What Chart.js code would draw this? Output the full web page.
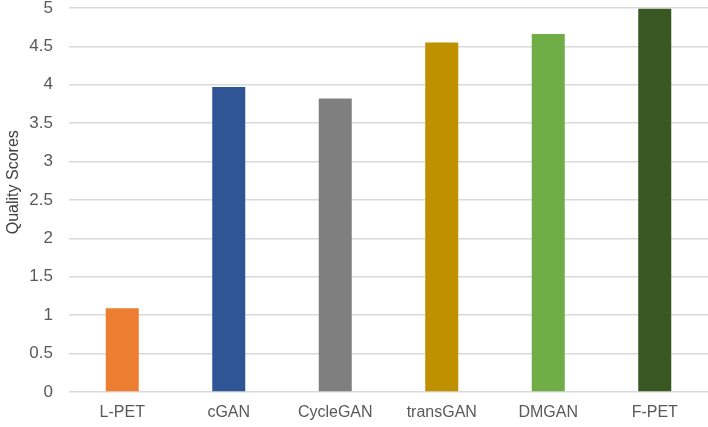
<!DOCTYPE html>
<html>
<head>
<meta charset="utf-8">
<script src="https://cdn.jsdelivr.net/npm/chart.js@4"></script>
<style>
  html, body { margin: 0; padding: 0; background: #fff; }
  #wrap { width: 708px; height: 427px; }
</style>
</head>
<body>
<div id="wrap"><canvas id="scoreChart"></canvas></div>
<script>
// quality scores per method
const methods = ['L-PET', 'cGAN', 'CycleGAN', 'transGAN', 'DMGAN', 'F-PET'];
const scores = [1.09, 3.97, 3.82, 4.55, 4.66, 4.99];
const barColors = ['#ED7D31', '#2F5597', '#7F7F7F', '#BF9000', '#70AD47', '#385723'];
const yTicks = [0, 0.5, 1, 1.5, 2, 2.5, 3, 3.5, 4, 4.5, 5];

const font = { family: 'Liberation Sans, Arial, sans-serif', size: 16 };

const ctx = document.getElementById('scoreChart').getContext('2d');
new Chart(ctx, {
  type: 'bar',
  data: {
    labels: methods,
    datasets: [{
      data: scores,
      backgroundColor: barColors,
      barPercentage: 0.31,
      categoryPercentage: 1
    }]
  },
  options: {
    responsive: true,
    maintainAspectRatio: false,
    animation: false,
    layout: { padding: { top: 8, left: 4, right: 0, bottom: 0 } },
    plugins: {
      legend: { display: false },
      tooltip: { enabled: false }
    },
    scales: {
      x: {
        grid: { display: false, drawTicks: false },
        border: { display: false },
        ticks: { color: '#595959', font: font, padding: 11, maxRotation: 0 },
        afterFit: axis => { axis.height = 35; }
      },
      y: {
        min: 0,
        max: 5,
        afterBuildTicks: axis => { axis.ticks = yTicks.map(v => ({ value: v })); },
        grid: { color: '#d9d9d9', lineWidth: 1.5, drawTicks: false },
        border: { display: false },
        ticks: {
          color: '#595959',
          font: { family: font.family, size: 17 },
          padding: 16,
          callback: v => String(v)
        },
        title: {
          display: true,
          text: '        Quality Scores',
          color: '#404040',
          font: font,
          padding: { top: 0, bottom: 0 }
        },
        afterFit: axis => {
          axis.width = 65;
          axis.paddingTop = 0;
          axis.paddingBottom = 0;
        }
      }
    }
  }
});
</script>
</body>
</html>
